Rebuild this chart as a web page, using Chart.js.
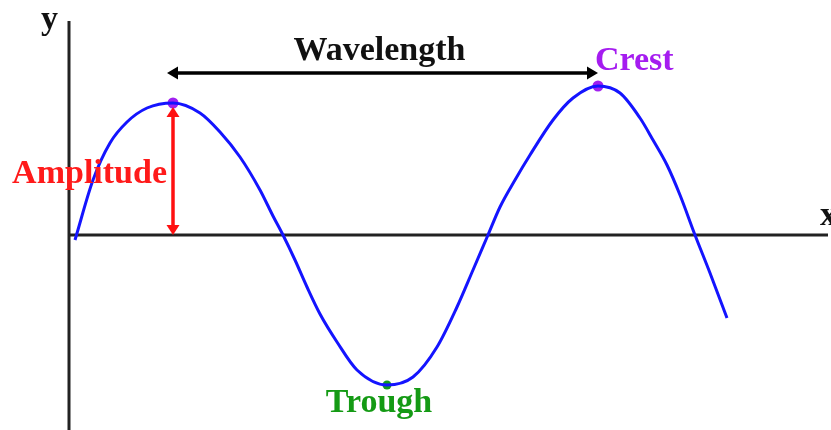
<!DOCTYPE html>
<html>
<head>
<meta charset="utf-8">
<script src="https://cdn.jsdelivr.net/npm/chart.js@4.4.1/dist/chart.umd.min.js"></script>
<style>
  html, body { margin: 0; padding: 0; background: #ffffff; }
  #wrap { width: 831px; height: 430px; }
</style>
</head>
<body>
<div id="wrap"><canvas id="c" width="831" height="430"></canvas></div>
<script>
// ---- data (x and y in axis units, origin where the axes cross) ----
const waveX = [0.06, 0.24, 0.41, 0.58, 0.78, 1.04, 1.31, 1.51, 1.71, 1.91, 2.04, 2.14,
               2.26, 2.38, 2.51, 2.68, 2.88, 3.18, 3.44, 3.68, 3.88, 4.04, 4.19,
               4.31, 4.46, 4.61, 4.84, 5.04, 5.29, 5.51, 5.71, 5.84, 5.98, 6.11, 6.26, 6.41, 6.58];
const waveY = [-0.05, 0.55, 0.92, 1.13, 1.27, 1.32, 1.22, 1.03, 0.78, 0.45, 0.19, 0.00,
               -0.25, -0.52, -0.79, -1.07, -1.35, -1.50, -1.42, -1.12, -0.72, -0.35, 0.00,
               0.28, 0.55, 0.80, 1.15, 1.37, 1.49, 1.42, 1.17, 0.95, 0.70, 0.40, 0.00, -0.38, -0.83];
const crestX = [1.04, 5.29];
const crestY = [1.32, 1.49];
const troughX = [3.18];
const troughY = [-1.50];
const xAxisX = [0, 7.59];
const xAxisY = [0, 0];
const yAxisX = [0, 0];
const yAxisY = [-1.95, 2.14];
const wavelengthLevel = 1.62;   // height of the wavelength arrow
const labels = { wavelength: "Wavelength", crest: "Crest", trough: "Trough", amplitude: "Amplitude", x: "x", y: "y" };

const pts = (xs, ys) => xs.map((x, i) => ({ x: x, y: ys[i] }));

const FONT = 'bold 34px "Liberation Serif", "Times New Roman", serif';

function arrowHead(ctx, tx, ty, dx, dy, len, half) {
  const bx = tx - dx * len, by = ty - dy * len;
  const px = -dy, py = dx;
  ctx.beginPath();
  ctx.moveTo(tx, ty);
  ctx.lineTo(bx + px * half, by + py * half);
  ctx.lineTo(bx - px * half, by - py * half);
  ctx.closePath();
  ctx.fill();
}

const annotate = {
  id: 'annotate',
  afterDatasetsDraw(chart) {
    const ctx = chart.ctx;
    const sx = chart.scales.x, sy = chart.scales.y;
    const X = v => sx.getPixelForValue(v), Y = v => sy.getPixelForValue(v);
    ctx.save();

    // Wavelength arrow (crest to crest)
    const x1 = X(crestX[0]) - 6, x2 = X(crestX[1]), ya = Y(wavelengthLevel);
    ctx.strokeStyle = '#000'; ctx.fillStyle = '#000'; ctx.lineWidth = 3.4;
    ctx.beginPath(); ctx.moveTo(x1 + 6, ya); ctx.lineTo(x2 - 6, ya); ctx.stroke();
    arrowHead(ctx, x1, ya, -1, 0, 11, 6.5);
    arrowHead(ctx, x2, ya, 1, 0, 11, 6.5);

    // Amplitude arrow (axis to first crest)
    const ax = X(crestX[0]), ay1 = Y(0), ay2 = Y(crestY[0]) + 4;
    ctx.strokeStyle = '#ff1010'; ctx.fillStyle = '#ff1010'; ctx.lineWidth = 3.5;
    ctx.beginPath(); ctx.moveTo(ax, ay2 + 6); ctx.lineTo(ax, ay1 - 6); ctx.stroke();
    arrowHead(ctx, ax, ay2, 0, -1, 10, 6.5);
    arrowHead(ctx, ax, ay1, 0, 1, 10, 6.5);

    // Texts
    ctx.font = FONT;
    ctx.textBaseline = 'alphabetic';
    ctx.fillStyle = '#111';
    ctx.textAlign = 'center';
    ctx.fillText(labels.wavelength, (x1 + x2) / 2 - 3, ya - 13);

    ctx.fillStyle = '#a51cf0';
    ctx.textAlign = 'left';
    ctx.fillText(labels.crest, X(crestX[1]) - 3, Y(crestY[1]) - 16);

    ctx.fillStyle = '#ff1a1a';
    ctx.textAlign = 'right';
    ctx.fillText(labels.amplitude, ax - 6, (ay1 + ay2) / 2 + 12);

    ctx.fillStyle = '#149a14';
    ctx.textAlign = 'center';
    ctx.fillText(labels.trough, X(troughX[0]) - 8, Y(troughY[0]) + 27);

    ctx.fillStyle = '#111';
    ctx.textAlign = 'right';
    ctx.fillText(labels.y, X(0) - 11, Y(yAxisY[1]) + 8);
    ctx.textAlign = 'left';
    ctx.fillText(labels.x, X(xAxisX[1]) - 8, Y(0) - 10);

    ctx.restore();
  }
};

new Chart(document.getElementById('c'), {
  type: 'scatter',
  data: {
    datasets: [
      { label: 'wave', data: pts(waveX, waveY), showLine: true, borderColor: '#1414ff',
        borderWidth: 3, pointRadius: 0, cubicInterpolationMode: 'monotone', fill: false },
      { label: 'crest', data: pts(crestX, crestY), backgroundColor: '#a020f0', borderWidth: 0, pointRadius: 5.5 },
      { label: 'trough', data: pts(troughX, troughY), backgroundColor: '#0f9a1a', borderWidth: 0, pointRadius: 4.5 },
      { label: 'xaxis', data: pts(xAxisX, xAxisY), showLine: true, borderColor: '#222', borderWidth: 3, pointRadius: 0 },
      { label: 'yaxis', data: pts(yAxisX, yAxisY), showLine: true, borderColor: '#222', borderWidth: 3, pointRadius: 0 }
    ]
  },
  options: {
    responsive: false,
    animation: false,
    devicePixelRatio: 1,
    layout: { padding: 0, autoPadding: false },
    plugins: { legend: { display: false }, tooltip: { enabled: false } },
    scales: {
      x: { type: 'linear', min: -0.69, max: 7.62, display: false },
      y: { type: 'linear', min: -1.95, max: 2.35, display: false }
    }
  },
  plugins: [annotate]
});
</script>
</body>
</html>
